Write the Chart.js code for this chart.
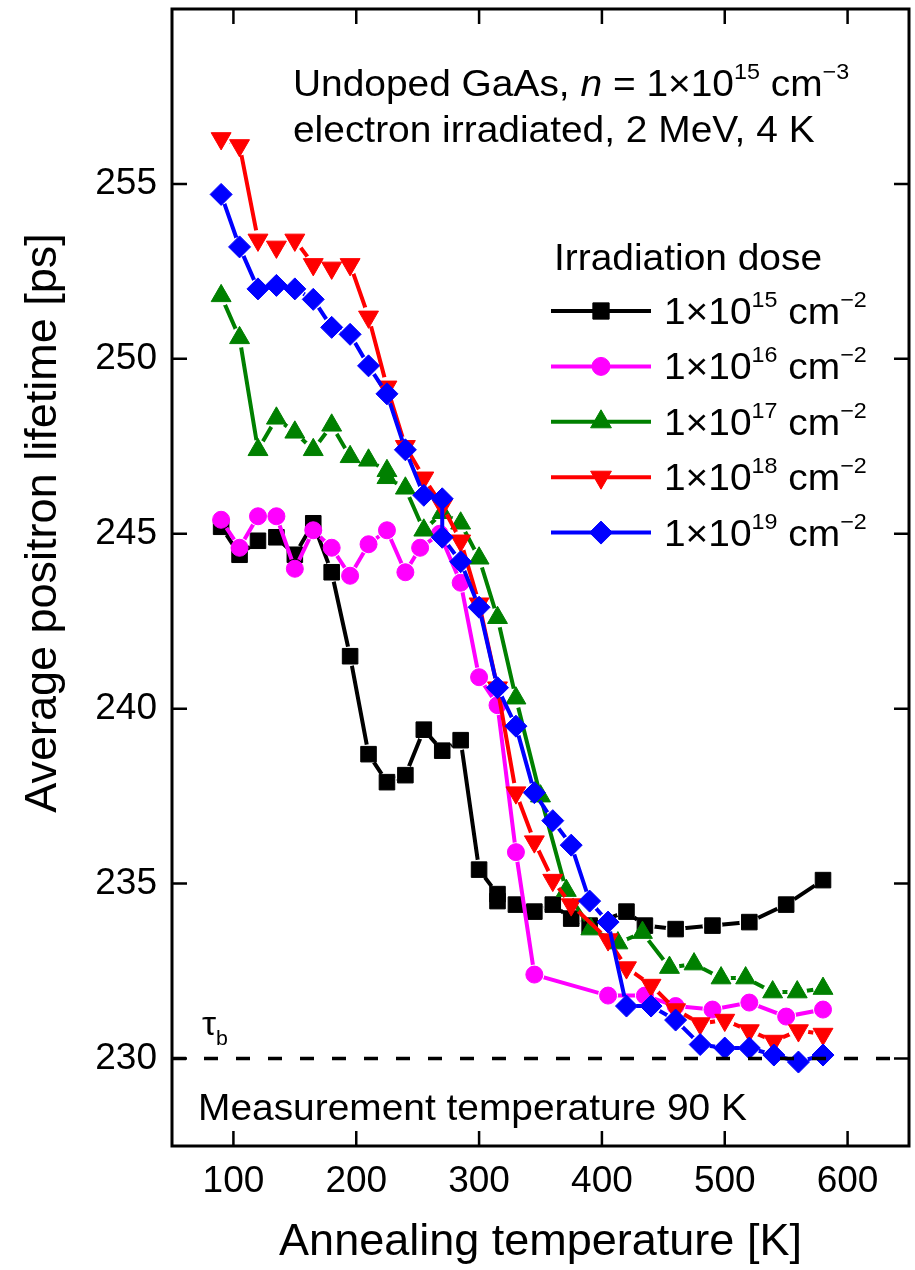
<!DOCTYPE html>
<html lang="en">

<head>
    <meta charset="UTF-8">
    <script src="https://cdn.jsdelivr.net/npm/chart.js"></script>
    <title>Positron lifetime</title>
    <style>
        body { margin: 0; background: #ffffff; }
        canvas { display: block; }
    </style>
</head>

<body>
    <canvas id="myChart" width="915" height="1270"></canvas>

    <script>
        // annealing temperatures [K] and average lifetimes [ps] for each dose
        const temp15 = [90, 105, 120, 135, 150, 165, 180, 195, 210, 225, 240, 255, 270, 285, 300, 315, 315, 330, 345, 360, 375, 390, 420, 435, 460, 490, 520, 550, 580];
        const life15 = [245.2, 244.4, 244.8, 244.9, 244.4, 245.3, 243.9, 241.5, 238.7, 237.9, 238.1, 239.4, 238.8, 239.1, 235.4, 234.7, 234.5, 234.4, 234.2, 234.4, 234.0, 233.8, 234.2, 233.8, 233.7, 233.8, 233.9, 234.4, 235.1];

        const temp16 = [90, 105, 120, 135, 150, 165, 180, 195, 210, 225, 240, 252, 268, 285, 300, 315, 330, 345, 405, 435, 460, 490, 520, 550, 580];
        const life16 = [245.4, 244.6, 245.5, 245.5, 244.0, 245.1, 244.6, 243.8, 244.7, 245.1, 243.9, 244.6, 245.0, 243.6, 240.9, 240.1, 235.9, 232.4, 231.8, 231.8, 231.5, 231.4, 231.6, 231.2, 231.4];

        const temp17 = [90, 105, 120, 135, 150, 165, 180, 195, 210, 225, 225, 240, 255, 270, 285, 300, 315, 330, 350, 371, 391, 413, 433, 455, 475, 497, 517, 539, 559, 580];
        const life17 = [251.8, 250.6, 247.4, 248.3, 247.9, 247.4, 248.1, 247.2, 247.1, 246.8, 246.6, 246.3, 245.1, 245.6, 245.3, 244.3, 242.6, 240.3, 237.5, 234.8, 233.7, 233.3, 233.6, 232.6, 232.7, 232.3, 232.3, 231.9, 231.9, 232.0];

        const temp18 = [90, 105, 120, 135, 150, 165, 180, 195, 210, 225, 240, 255, 270, 285, 300, 315, 330, 345, 360, 375, 405, 420, 440, 460, 480, 500, 520, 540, 560, 580];
        const life18 = [256.3, 256.1, 253.4, 253.2, 253.4, 252.7, 252.6, 252.7, 251.2, 249.2, 247.5, 246.6, 245.8, 244.8, 243.0, 240.6, 237.6, 236.2, 235.1, 234.4, 233.4, 232.6, 232.1, 231.4, 231.0, 231.1, 230.8, 230.5, 230.8, 230.7];

        const temp19 = [90, 105, 120, 135, 150, 165, 180, 195, 210, 225, 240, 255, 270, 270, 285, 300, 315, 330, 345, 360, 375, 390, 405, 420, 440, 460, 480, 500, 520, 540, 560, 580];
        const life19 = [254.7, 253.2, 252.0, 252.1, 252.0, 251.7, 250.9, 250.7, 249.8, 249.0, 247.4, 246.1, 246.0, 244.9, 244.2, 242.9, 240.6, 239.5, 237.6, 236.8, 236.1, 234.5, 233.9, 231.5, 231.5, 231.1, 230.4, 230.3, 230.3, 230.1, 229.9, 230.1];

        // bulk lifetime (dashed line)
        const tauBulk = 230;

        // axis ranges and labelled ticks
        const xMin = 50, xMax = 650;
        const yMin = 227.5, yMax = 260;
        const xLabels = [100, 200, 300, 400, 500, 600];
        const yLabels = [230, 235, 240, 245, 250, 255];

        const doseExp = ['15', '16', '17', '18', '19'];

        // look of each series (black, magenta, green, red, blue)
        const cores = ['#000000', '#ff00ff', '#008000', '#ff0000', '#0000ff'];
        const simbolos = ['rect', 'circle', 'triangle', 'triangle', 'rectRot'];
        const raios = [11, 8.5, 11.5, 11.5, 11];
        const rotacoes = [0, 0, 0, 180, 0];

        const FONT = '"Liberation Sans", Arial, sans-serif';
        const STRETCH = 1.08;
        const TXT = 36;
        const GAP = 10; // line stops this far from the centre of a symbol

        function pontos(xs, ys) {
            return xs.map(function (x, i) { return { x: x, y: ys[i] }; });
        }

        // every series = one line dataset (with gaps at the symbols) + one symbol dataset
        const temps = [temp15, temp16, temp17, temp18, temp19];
        const lifes = [life15, life16, life17, life18, life19];
        const datasets = [];
        for (let s = 0; s < 5; s++) {
            const pts = pontos(temps[s], lifes[s]);
            datasets.push({
                data: pts,
                borderColor: cores[s],
                borderWidth: 4,
                pointRadius: 0,
                pointHoverRadius: 0,
                tension: 0,
                gap: GAP,
                order: 12 - 2 * s
            });
            datasets.push({
                data: pts,
                showLine: false,
                pointStyle: simbolos[s],
                pointRadius: raios[s],
                pointHoverRadius: raios[s],
                pointRotation: rotacoes[s],
                pointBackgroundColor: cores[s],
                pointBorderColor: cores[s],
                pointBorderWidth: 1,
                order: 11 - 2 * s
            });
        }
        datasets.push({
            data: pontos([xMin, xMax], [tauBulk, tauBulk]),
            borderColor: '#000000',
            borderWidth: 3.5,
            borderDash: [14, 18],
            pointRadius: 0,
            pointHoverRadius: 0,
            order: 0
        });

        const dados = { datasets: datasets };

        // text with superscripts / subscripts / italic, slightly stretched horizontally
        function textoRico(ctx, x, y, partes, size) {
            ctx.save();
            ctx.translate(x, y);
            ctx.scale(STRETCH, 1);
            ctx.fillStyle = '#000';
            ctx.textBaseline = 'alphabetic';
            ctx.textAlign = 'left';
            let cx = 0;
            partes.forEach(function (p) {
                const small = p.sup || p.sub;
                const fs = small ? size * 0.6 : size;
                ctx.font = (p.it ? 'italic ' : '') + fs + 'px ' + FONT;
                const dy = p.sup ? -size * 0.47 : (p.sub ? size * 0.3 : 0);
                ctx.fillText(p.t, cx, dy);
                cx += ctx.measureText(p.t).width;
            });
            ctx.restore();
        }

        function isMulti(v, step) {
            return Math.abs(v / step - Math.round(v / step)) < 1e-6;
        }

        // cut the connecting line around each symbol (Origin-like gaps)
        const lacunas = {
            id: 'lacunas',
            beforeDatasetDraw: function (chart, args) {
                const ds = chart.data.datasets[args.index];
                if (!ds.gap) return;
                const ctx = chart.ctx;
                const sx = chart.scales.x, sy = chart.scales.y;
                ctx.save();
                ds.data.forEach(function (p) {
                    const px = sx.getPixelForValue(p.x), py = sy.getPixelForValue(p.y);
                    ctx.beginPath();
                    ctx.rect(0, 0, chart.width, chart.height);
                    ctx.moveTo(px + ds.gap, py);
                    ctx.arc(px, py, ds.gap, 0, Math.PI * 2);
                    ctx.clip('evenodd');
                });
            },
            afterDatasetDraw: function (chart, args) {
                const ds = chart.data.datasets[args.index];
                if (!ds.gap) return;
                chart.ctx.restore();
            }
        };

        const moldura = {
            id: 'moldura',
            afterDraw: function (chart) {
                const ctx = chart.ctx;
                const a = chart.chartArea;
                const sx = chart.scales.x, sy = chart.scales.y;

                ctx.save();
                ctx.strokeStyle = '#000';
                ctx.lineWidth = 2.5;
                ctx.beginPath();
                sx.ticks.forEach(function (t) {
                    const px = sx.getPixelForValue(t.value);
                    const len = isMulti(t.value, 100) ? 15 : 8;
                    ctx.moveTo(px, a.bottom); ctx.lineTo(px, a.bottom - len);
                    ctx.moveTo(px, a.top); ctx.lineTo(px, a.top + len);
                });
                sy.ticks.forEach(function (t) {
                    const py = sy.getPixelForValue(t.value);
                    const len = isMulti(t.value, 5) ? 15 : 8;
                    ctx.moveTo(a.left, py); ctx.lineTo(a.left + len, py);
                    ctx.moveTo(a.right, py); ctx.lineTo(a.right - len, py);
                });
                ctx.stroke();

                ctx.lineWidth = 3;
                ctx.strokeRect(a.left, a.top, a.right - a.left, a.bottom - a.top);

                // y axis title
                ctx.save();
                ctx.translate(44, 523);
                ctx.rotate(-Math.PI / 2);
                ctx.font = '45px ' + FONT;
                ctx.fillStyle = '#000';
                ctx.textAlign = 'center';
                ctx.textBaseline = 'middle';
                ctx.fillText('Average positron lifetime [ps]', 0, 0);
                ctx.restore();

                // annotations
                textoRico(ctx, 293, 96, [
                    { t: 'Undoped GaAs, ' }, { t: 'n', it: true }, { t: ' = 1×10' },
                    { t: '15', sup: true }, { t: ' cm' }, { t: '−3', sup: true }
                ], TXT);
                textoRico(ctx, 293, 142, [{ t: 'electron irradiated, 2 MeV, 4 K' }], TXT);
                textoRico(ctx, 198, 1120, [{ t: 'Measurement temperature 90 K' }], TXT);
                textoRico(ctx, 202, 1035, [{ t: 'τ' }, { t: 'b', sub: true }], 33);

                // legend
                textoRico(ctx, 554, 270, [{ t: 'Irradiation dose' }], TXT);
                for (let i = 0; i < 5; i++) {
                    const y = 311 + i * 55.4;
                    ctx.strokeStyle = cores[i];
                    ctx.lineWidth = 4;
                    ctx.beginPath();
                    ctx.moveTo(551, y); ctx.lineTo(651, y);
                    ctx.stroke();
                    ctx.fillStyle = cores[i];
                    ctx.lineWidth = 1;
                    Chart.helpers.drawPoint(ctx, {
                        pointStyle: simbolos[i],
                        rotation: rotacoes[i],
                        radius: raios[i] + 0.5,
                        borderWidth: 1
                    }, 601, y);
                    textoRico(ctx, 664, y + 13, [
                        { t: '1×10' }, { t: doseExp[i], sup: true }, { t: ' cm' }, { t: '−2', sup: true }
                    ], TXT);
                }
                ctx.restore();
            }
        };

        const config = {
            type: 'line',
            data: dados,
            options: {
                responsive: false,
                animation: false,
                devicePixelRatio: 1,
                layout: { autoPadding: false, padding: { left: 0, right: 6, top: 9, bottom: 0 } },
                plugins: {
                    legend: { display: false },
                    tooltip: { enabled: false }
                },
                scales: {
                    x: {
                        type: 'linear',
                        min: xMin,
                        max: xMax,
                        grid: { display: false, drawTicks: false },
                        border: { display: false },
                        ticks: {
                            stepSize: 50,
                            autoSkip: false,
                            maxRotation: 0,
                            padding: 14,
                            color: '#000',
                            font: { family: FONT, size: 37 },
                            callback: function (v) { return xLabels.indexOf(v) >= 0 ? String(v) : null; }
                        },
                        title: {
                            display: true,
                            text: 'Annealing temperature [K]',
                            color: '#000',
                            font: { family: FONT, size: 45 },
                            padding: { top: 0, bottom: 0 }
                        },
                        afterFit: function (s) {
                            s.height = 124;
                            s.paddingLeft = 0;
                            s.paddingRight = 0;
                        }
                    },
                    y: {
                        type: 'linear',
                        min: yMin,
                        max: yMax,
                        grid: { display: false, drawTicks: false },
                        border: { display: false },
                        ticks: {
                            stepSize: 2.5,
                            autoSkip: false,
                            padding: 15,
                            color: '#000',
                            font: { family: FONT, size: 37 },
                            callback: function (v) {
                                for (let i = 0; i < yLabels.length; i++) {
                                    if (Math.abs(yLabels[i] - v) < 1e-6) return String(yLabels[i]);
                                }
                                return null;
                            }
                        },
                        afterFit: function (s) {
                            s.width = 172;
                            s.paddingTop = 0;
                            s.paddingBottom = 0;
                        }
                    }
                }
            },
            plugins: [lacunas, moldura]
        };

        let myChart = new Chart(document.getElementById('myChart'), config);
    </script>
</body>

</html>
